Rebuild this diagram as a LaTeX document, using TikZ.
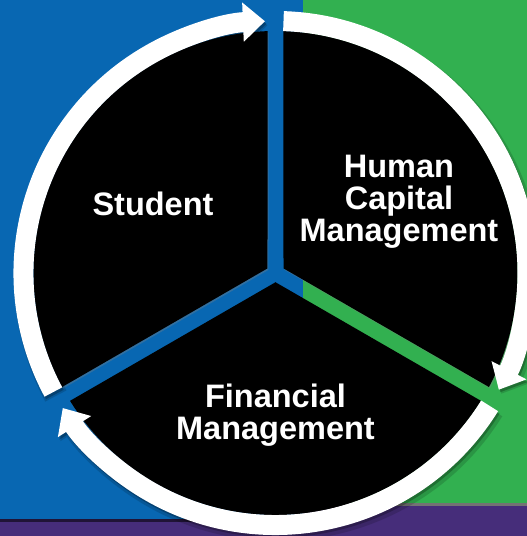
\documentclass[tikz,border=0pt]{standalone}
\usepackage{fontspec}
\setmainfont{Liberation Sans}
\usetikzlibrary{arrows.meta,shadows}
\definecolor{CycleBlue}{RGB}{8,103,178}
\definecolor{CycleGreen}{RGB}{50,176,80}
\definecolor{CyclePurple}{RGB}{70,45,122}

\begin{document}
\begin{tikzpicture}[x=1pt, y=1pt,
  sector/.style={fill=black, drop shadow={opacity=0.35, shadow xshift=1pt, shadow yshift=-1.5pt}},
  ring/.style={draw=white, line width=20pt, -{Triangle[width=38pt, length=22pt]}},
  ringshade/.style={draw=black, line width=20pt, -{Triangle[width=38pt, length=22pt]}},
  sectortext/.style={text=white, font=\bfseries\fontsize{32.5}{32}\selectfont, align=center}]
\useasboundingbox (-275.5,-263) rectangle (251.5,273);

% backdrop panels
\fill[CyclePurple] (-275.5,-263) rectangle (251.5,273);
\fill[black!55!CyclePurple] (-275.5,-249) rectangle (27.5,273);
\fill[CycleBlue] (-275.5,-246) rectangle (27.5,273);
\fill[black!55] (27.5,-233) rectangle (251.5,273);
\fill[CycleGreen] (27.5,-230) rectangle (251.5,273);

% three sectors, split by gaps
\coordinate (hub) at (0,0);
\fill[sector] (150:9.24) -- (91.89:242) arc[start angle=91.89, end angle=208.11, radius=242] -- cycle;
\fill[sector] (30:9.24) -- (-28.11:242) arc[start angle=-28.11, end angle=88.11, radius=242] -- cycle;
\fill[sector] (270:9.24) -- (211.89:242) arc[start angle=211.89, end angle=328.11, radius=242] -- cycle;

% shade under the ring arrows
\begin{scope}[transparency group, opacity=0.15, xshift=2.5pt, yshift=-4pt]
\draw[ringshade, line width=24pt] (208.18:252) arc[start angle=208.18, end angle=92.4, radius=252];
\draw[ringshade, line width=24pt] (88.18:252) arc[start angle=88.18, end angle=-27.6, radius=252];
\draw[ringshade, line width=24pt] (-31.82:252) arc[start angle=-31.82, end angle=-147.6, radius=252];
\end{scope}
\begin{scope}[transparency group, opacity=0.25, xshift=1.5pt, yshift=-2.5pt]
\draw[ringshade] (208.18:252) arc[start angle=208.18, end angle=92.4, radius=252];
\draw[ringshade] (88.18:252) arc[start angle=88.18, end angle=-27.6, radius=252];
\draw[ringshade] (-31.82:252) arc[start angle=-31.82, end angle=-147.6, radius=252];
\end{scope}

% ring arrows, clockwise
\draw[ring] (208.18:252) arc[start angle=208.18, end angle=92.4, radius=252];
\draw[ring] (88.18:252) arc[start angle=88.18, end angle=-27.6, radius=252];
\draw[ring] (-31.82:252) arc[start angle=-31.82, end angle=-147.6, radius=252];

\node[sectortext] (student) at (-122.5,69) {Student};
\node[sectortext] (hcm) at (123.5,71) {Human\\Capital\\Management};
\node[sectortext] (finance) at (0,-142) {Financial\\Management};
\end{tikzpicture}
\end{document}
